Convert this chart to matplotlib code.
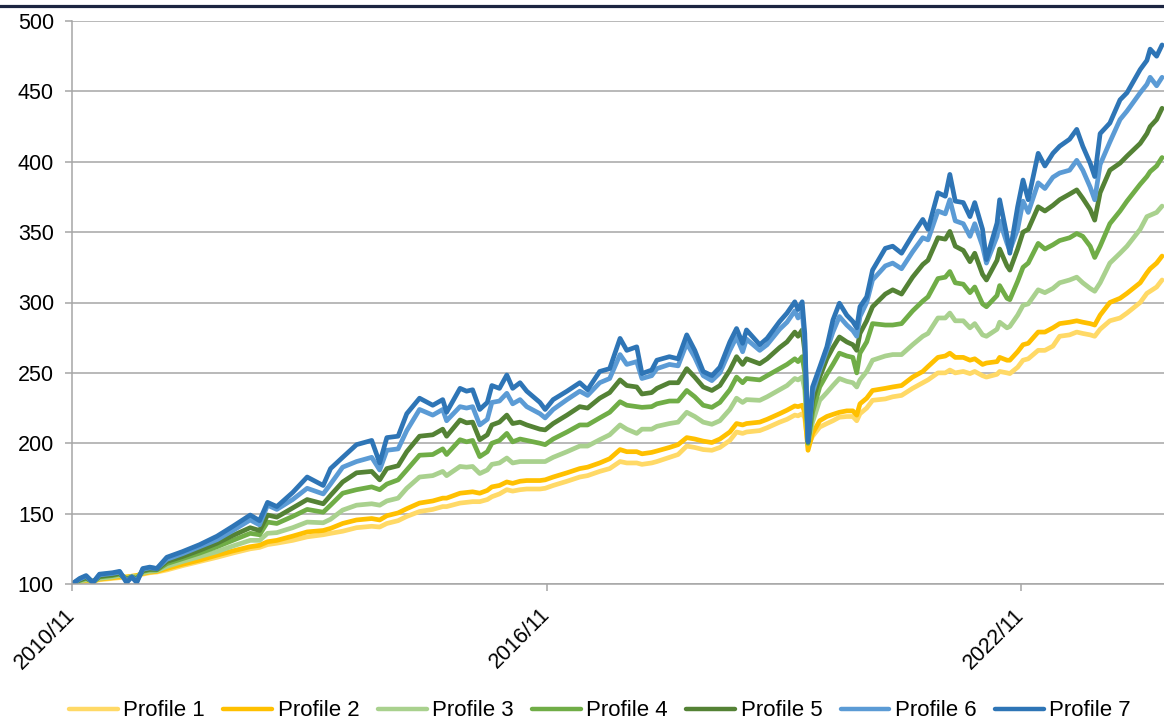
import matplotlib
matplotlib.use("Agg")
import matplotlib.pyplot as plt
import pandas as pd
from matplotlib.lines import Line2D

plt.rcParams['font.family'] = ['Liberation Sans', 'DejaVu Sans']

dates = [
    "2010-11-01", "2010-12-07", "2011-01-05", "2011-02-06", "2011-03-08", "2011-05-07", "2011-06-09", "2011-07-11", "2011-08-04", "2011-08-27",
    "2011-09-24", "2011-10-26", "2011-11-28", "2012-01-13", "2012-03-25", "2012-06-13", "2012-09-01", "2012-11-13", "2013-02-01", "2013-03-16",
    "2013-04-22", "2013-06-04", "2013-08-16", "2013-10-22", "2014-01-04", "2014-02-07", "2014-04-04", "2014-06-07", "2014-08-16", "2014-09-22",
    "2014-10-25", "2014-12-16", "2015-01-25", "2015-03-25", "2015-05-25", "2015-07-10", "2015-07-28", "2015-09-28", "2015-10-28", "2015-11-25",
    "2015-12-28", "2016-02-01", "2016-02-22", "2016-03-28", "2016-05-01", "2016-05-28", "2016-07-01", "2016-08-01", "2016-10-01", "2016-10-25",
    "2016-12-01", "2017-02-03", "2017-04-03", "2017-05-09", "2017-07-04", "2017-08-19", "2017-10-06", "2017-11-06", "2017-12-22", "2018-01-15",
    "2018-03-01", "2018-03-25", "2018-05-22", "2018-07-01", "2018-08-10", "2018-09-16", "2018-10-25", "2018-12-04", "2019-01-10", "2019-02-25",
    "2019-03-28", "2019-04-25", "2019-05-13", "2019-07-13", "2019-08-16", "2019-10-13", "2019-11-16", "2019-12-22", "2020-01-06", "2020-01-25",
    "2020-02-06", "2020-02-21", "2020-03-13", "2020-04-15", "2020-05-18", "2020-06-15", "2020-07-15", "2020-08-18", "2020-09-15", "2020-10-03",
    "2020-10-18", "2020-11-18", "2020-12-15", "2021-02-12", "2021-03-18", "2021-04-28", "2021-06-18", "2021-08-04", "2021-08-28", "2021-10-13",
    "2021-11-16", "2021-12-07", "2022-01-01", "2022-02-07", "2022-03-10", "2022-04-01", "2022-05-07", "2022-05-25", "2022-07-13", "2022-07-25",
    "2022-08-28", "2022-09-10", "2022-10-16", "2022-11-10", "2022-12-04", "2023-01-19", "2023-02-19", "2023-03-28", "2023-04-28", "2023-06-13",
    "2023-07-16", "2023-08-13", "2023-09-16", "2023-10-07", "2023-11-01", "2023-12-16", "2024-02-01", "2024-03-04", "2024-05-04", "2024-06-04",
    "2024-06-19", "2024-07-19", "2024-08-13",
]

profile_1 = [
    100, 101, 102, 102, 103, 104, 104.5, 105, 105.5, 106,
    107, 108, 108.5, 110, 113, 116, 119, 122, 125, 126,
    128, 129, 131, 133.5, 135, 136, 137.5, 140, 141, 140.5,
    143, 145, 148, 151.5, 153, 155, 155, 157.5, 158, 158.5,
    158.5, 160, 162, 164, 167, 166, 167, 167.5, 167.5, 168,
    170, 173, 176, 177, 180, 182, 187, 186, 186, 185,
    186, 187, 190, 192, 198, 197, 195.5, 195, 197, 202,
    208, 207, 208, 209, 211, 215, 217, 220, 219.5, 221,
    218, 198, 205, 211.5, 214, 216, 218.5, 219, 219, 216,
    221, 225, 230.5, 231.5, 233, 234, 239, 243, 245, 250,
    250, 252, 250, 251, 249.5, 251, 248, 247, 249, 251,
    250, 249.5, 254, 259, 260, 266, 266, 269, 276, 277,
    279, 278, 277, 276, 281, 287, 289, 292.5, 300, 306.5,
    308, 311, 316,
]

profile_2 = [
    100, 101.5, 102.5, 102, 103.5, 104.5, 105, 105, 105.5, 106,
    107.5, 108.5, 109, 111, 114, 117, 120.5, 123.5, 126.5, 127.5,
    130, 131, 134, 137, 138, 139.5, 143, 145.5, 146.5, 145.5,
    148.5, 150.5, 153.5, 157.5, 159, 161, 161, 164.5, 165, 165.5,
    164.5, 166.5, 169, 170, 172.5, 171.5, 173, 173.5, 173.5, 174,
    176, 179, 182, 183, 186, 189, 195.5, 194, 194, 192.5,
    193.5, 194.5, 197, 199, 204, 203, 201.5, 200.5, 203, 208,
    214, 213, 214, 215, 217, 221, 223.5, 226.5, 226, 227,
    222, 195, 207, 216, 219, 220.5, 222, 223, 223, 220,
    228, 232, 237.5, 239, 240, 241, 247, 251, 254.5, 261,
    262, 264, 261, 261, 259, 260, 256, 257, 258, 261,
    259, 259, 265, 270, 271, 279, 279, 282, 285, 286,
    287, 286, 285, 284, 291, 300, 303, 306.5, 314, 321,
    324, 328, 333,
]

profile_3 = [
    100, 102, 103, 102, 104, 105, 106, 104, 105.5, 105,
    108, 109, 109.5, 112.5, 116, 119.5, 123, 127, 131, 131,
    136, 136.5, 140, 144, 143.5, 146, 152.5, 156, 157, 156,
    159, 161, 168, 176, 177, 180, 177, 183.5, 183, 183.5,
    178.5, 181, 185, 186, 189.5, 186, 187, 187, 187, 187,
    190, 194, 198, 198, 202.5, 206, 213, 210, 207, 210,
    210, 212, 214, 215, 222, 219, 215, 213.5, 216, 224,
    232, 229, 231, 230.5, 233, 238, 241, 246, 245, 247,
    238, 200, 215, 230.5, 236, 241, 246, 244, 243, 240,
    245, 251, 259, 262, 263, 263, 270, 276, 278, 289,
    289, 292.5, 287, 287, 282, 285, 277, 276, 281, 286,
    282, 283, 291, 298, 299, 309, 307, 310, 314, 316,
    318, 314, 310, 308, 314, 328, 335, 340, 352, 361,
    362, 364, 368.5,
]

profile_4 = [
    100, 102.5, 104, 101.5, 105, 106, 107, 103.5, 105, 104,
    109, 110, 110, 114.5, 118, 122, 126.5, 131, 136, 135,
    144, 143, 148, 153, 151, 156, 164.5, 167, 169, 167,
    171, 174, 181, 191.5, 192, 196, 192, 202.5, 201, 202,
    190.5, 194, 200, 202, 207, 201, 203, 202, 200, 199,
    203, 208, 213, 213, 218, 222, 229.5, 227, 226, 225.5,
    226, 228, 230, 230, 237.5, 233, 227, 225.5, 229, 238,
    247, 243, 246, 245, 248, 253, 256, 260, 258, 261.5,
    250, 200, 222, 240, 249, 256, 264, 262, 261, 250,
    264, 272, 285, 284, 284, 285, 294, 301, 304, 317,
    318, 322, 314, 313, 307, 311, 299, 297, 305, 312,
    303, 302, 315, 325, 328, 342, 338, 341, 344, 346,
    349, 347, 340, 332, 340, 356, 365, 372, 384, 389.5,
    393, 397, 403,
]

profile_5 = [
    100, 103, 104.5, 101.5, 105.5, 106.5, 107.5, 103, 105, 103,
    109.5, 110.5, 110.5, 116, 119.5, 124, 129, 134.5, 140, 138,
    149, 147.5, 154, 160, 157, 163, 172.5, 179, 180, 174,
    182, 184, 194, 205, 206, 210, 205, 216.5, 214.5, 215,
    202.5, 206, 213, 215, 220, 214, 215, 213, 210, 209.5,
    214, 220, 226, 225, 232, 236, 245, 241, 240, 235,
    236, 239, 243, 243, 253, 247, 240, 237.5, 241, 252,
    261.5, 256, 260, 256.5, 260, 268, 272, 279, 276, 280.5,
    265, 201, 230, 247, 260, 268, 275.5, 272, 270, 266,
    278, 287, 297, 306, 309, 306, 318, 327, 330, 346,
    345, 350.5, 340, 337, 329, 335, 320, 316, 330, 338,
    326, 323, 338, 350, 352, 368, 365, 369, 373, 377,
    380, 374, 366, 358.5, 378, 394, 399, 404, 413, 420,
    425, 430, 438,
]

profile_6 = [
    100, 103.5, 105.5, 101, 106.5, 107.5, 108.5, 102, 105, 102,
    110.5, 111.5, 111, 117.5, 121.5, 126.5, 131.5, 138, 145.5, 142,
    156, 153, 160, 168, 164, 171, 183, 187, 190, 181,
    195, 196, 209, 224, 220, 224, 216, 226, 225, 226,
    213, 217, 229, 230, 235.5, 228, 231, 226, 221, 218,
    224, 231, 237, 234, 243, 246, 263, 256, 258, 246,
    248, 253, 256, 255, 271, 261, 248, 244.5, 250, 266,
    275.5, 265, 274, 266, 270, 281, 286, 294, 289, 293.5,
    273, 202, 236, 252, 266, 279, 290, 284, 280, 276,
    290, 300, 316, 326, 328, 324, 336, 346, 344.5, 365,
    363, 373, 358, 356, 347, 356, 340, 328, 347, 358,
    342, 337, 352, 372, 364, 385, 381, 389, 392, 394,
    401, 394, 382, 373, 398, 414, 430, 436, 449, 455,
    460, 454, 460,
]

profile_7 = [
    100, 104, 106, 101, 107, 108, 109, 101, 105, 101,
    111, 112, 111, 119, 123, 128, 134, 141, 149, 145,
    158, 155, 165, 176, 170, 182, 190, 199, 202, 186,
    204, 205, 221, 232, 227, 231, 222, 239, 237, 238,
    224, 229, 241, 239, 248.5, 239, 243, 237, 229, 224,
    231, 237, 243, 238, 251, 253, 274.5, 266, 268.5, 249.5,
    252, 259, 261.5, 260, 277, 266, 251, 248, 254, 272,
    281.5, 271, 280.5, 270, 274.5, 286.5, 292.5, 300.5, 295, 300.5,
    278, 201, 240, 254, 268.5, 287.5, 299.5, 291, 286.5, 282,
    297, 304, 323, 338.5, 340, 335, 348, 359, 352, 378,
    375.5, 391, 372, 371, 361, 371, 352, 330.5, 356.5, 373,
    347, 335, 368, 387, 373, 406, 397, 406, 411, 416,
    423, 411, 399, 389.5, 420, 427.5, 444, 449, 465.5, 472,
    480, 475, 483,
]

series_names = ["Profile 1", "Profile 2", "Profile 3", "Profile 4",
                "Profile 5", "Profile 6", "Profile 7"]
series_values = [profile_1, profile_2, profile_3, profile_4,
                 profile_5, profile_6, profile_7]
series_colors = ["#FFD966", "#FFC000", "#A9D18E", "#70AD47",
                 "#548235", "#5B9BD5", "#2E75B6"]

x_tick_dates = ["2010-11-01", "2016-11-01", "2022-11-01"]
x_tick_labels = ["2010/11", "2016/11", "2022/11"]
y_ticks = [100, 150, 200, 250, 300, 350, 400, 450, 500]

for v in series_values:
    assert len(v) == len(dates), len(v)

W, H = 1164, 723
fig = plt.figure(figsize=(W / 100, H / 100), dpi=100)
ax = fig.add_axes([72 / W, 1 - 584 / H, 1 - 72 / W, (584 - 21) / H])

x = pd.to_datetime(dates)
for name, vals, col in zip(series_names, series_values, series_colors):
    ax.plot(x, vals, color=col, lw=3.4, label=name,
            solid_joinstyle='round', solid_capstyle='round')

ax.set_ylim(100, 500)
ax.set_yticks(y_ticks)
ax.set_xlim(pd.Timestamp("2010-11-01"), pd.Timestamp("2024-08-22"))
ax.set_xticks(pd.to_datetime(x_tick_dates))
ax.set_xticklabels(x_tick_labels, rotation=45, ha='right', va='center',
                   rotation_mode='anchor')

grid_col = '#a6a6a6'
ax.grid(axis='y', color=grid_col, lw=1.1)
ax.set_axisbelow(True)
for s in ['top', 'right']:
    ax.spines[s].set_visible(False)
for s in ['left', 'bottom']:
    ax.spines[s].set_color(grid_col)
    ax.spines[s].set_linewidth(1.1)

ax.tick_params(axis='y', length=5, width=1.1, color=grid_col, pad=8,
               labelsize=15.5, labelcolor='black')
ax.tick_params(axis='x', length=5, width=1.1, color=grid_col, pad=15,
               labelsize=15.5, labelcolor='black')

leg = fig.legend(loc='center', bbox_to_anchor=(600 / W, 1 - 711 / H),
                 ncol=7, frameon=False, fontsize=16, handlelength=2.2,
                 handletextpad=0.25, columnspacing=0.82, borderpad=0,
                 borderaxespad=0)
for h in leg.get_lines():
    h.set_linewidth(3.2)

fig.add_artist(Line2D([0, 1], [1 - 5.5 / H, 1 - 5.5 / H],
                      transform=fig.transFigure, color='#1c2541', lw=2.3))

fig.savefig("out.png", dpi=100)
